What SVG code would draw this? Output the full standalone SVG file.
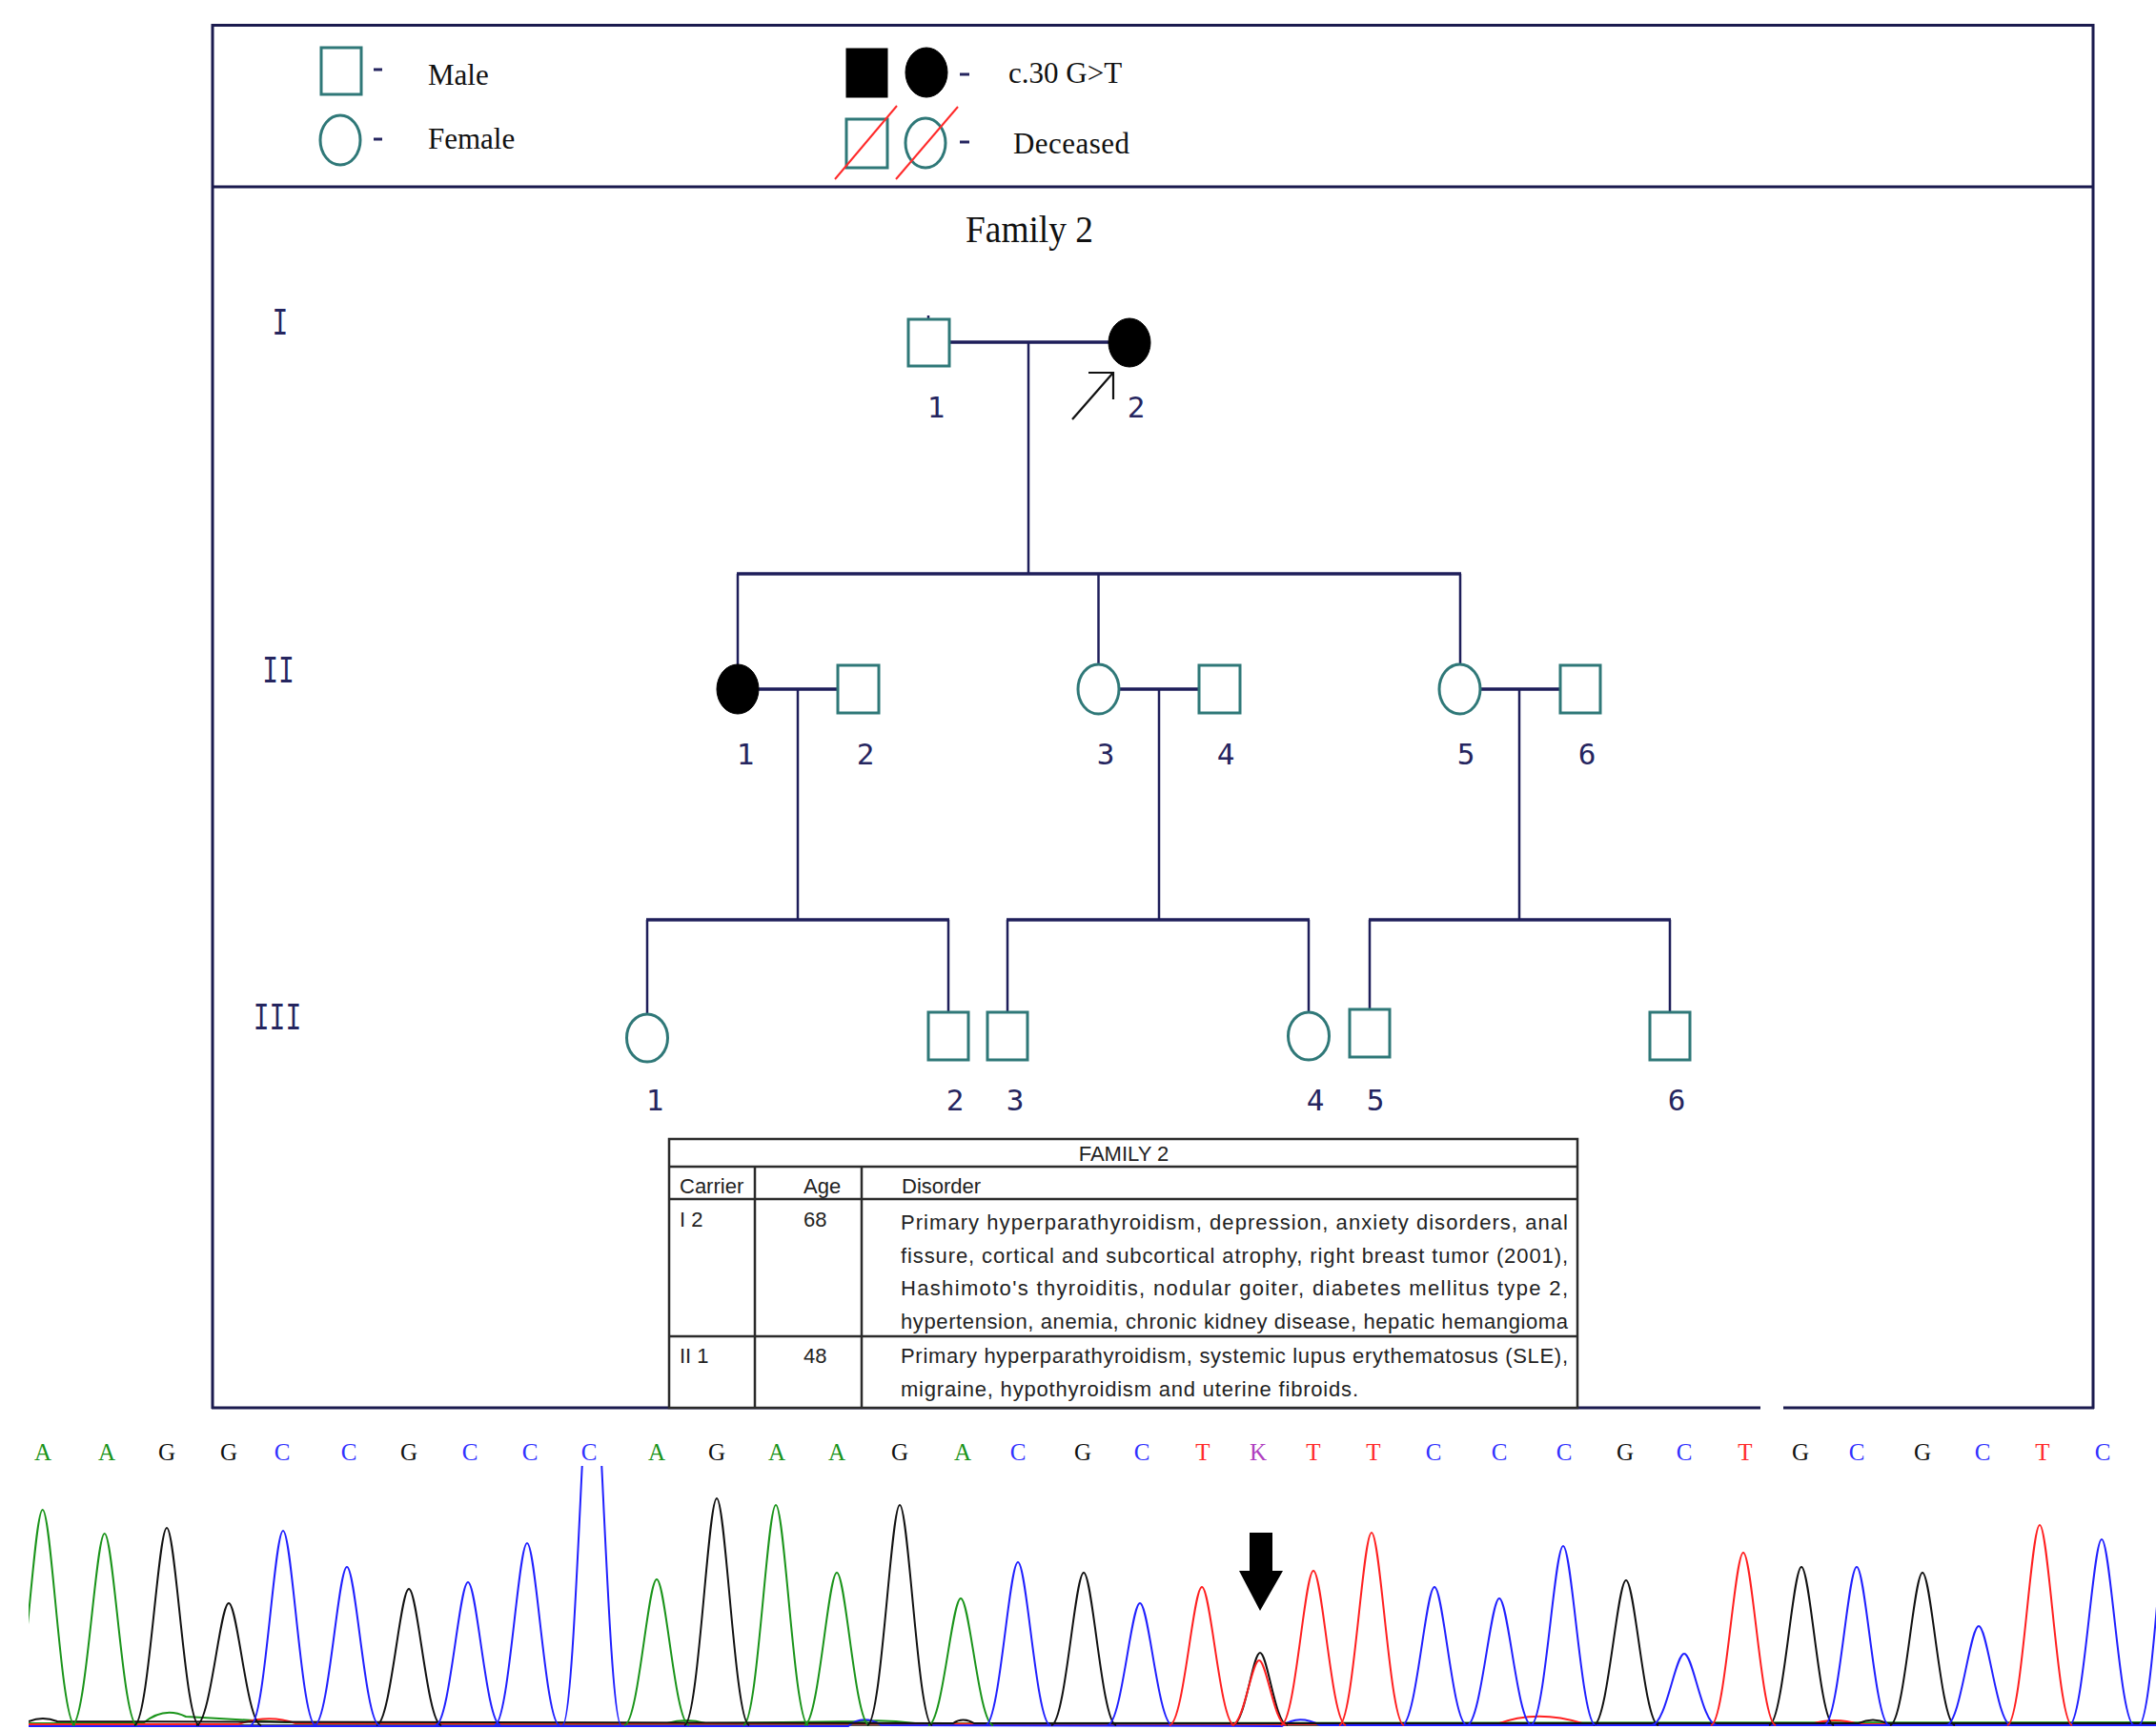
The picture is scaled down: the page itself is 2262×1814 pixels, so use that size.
<svg xmlns="http://www.w3.org/2000/svg" xmlns:xlink="http://www.w3.org/1999/xlink" width="2262" height="1814" viewBox="0 0 2262 1814">
<style>
.frame{fill:none;stroke:#1b1b4f;stroke-width:3}
.ln{stroke:#1e1e5a;stroke-width:2.5;fill:none}
.mar{stroke:#1e1e5a;stroke-width:3.5;fill:none}
.nd{fill:#fff;stroke:#2f7878;stroke-width:3}
.aff{fill:#000;stroke:#000;stroke-width:1}
.lbl{font-family:"DejaVu Sans Mono",monospace;font-size:31px;fill:#25255f;text-anchor:middle}
.gen{font-family:"Liberation Mono",monospace;font-size:28px;fill:#25255f;text-anchor:middle}
.lg{font-family:"Liberation Serif",serif;font-size:31px;fill:#111}
.dash{stroke:#25255f;stroke-width:3}
.dec{stroke:#ff2a2a;stroke-width:2}
.tb{font-family:"Liberation Sans",sans-serif;font-size:22px;fill:#222}
.tl{stroke:#2b2b2b;stroke-width:2.5;fill:none}
.base{font-family:"Liberation Serif",serif;font-size:25px;text-anchor:middle}
.pk{fill:none;stroke-width:2}
.A{fill:#1a941a}
.G{fill:#111}
.C{fill:#3030ff}
.T{fill:#ff2a2a}
.K{fill:#b040c0}
</style>
<defs>
<path id="pk" d="M-1.1 0C-0.62 0 -0.3 1 0 1C0.3 1 0.62 0 1.1 0" vector-effect="non-scaling-stroke"/>
<clipPath id="chromClip"><rect x="30" y="1538" width="2232" height="276"/></clipPath>
</defs>
<rect width="2262" height="1814" fill="#fff"/>

<!-- frame -->
<g id="frame">
<line class="frame" x1="223" y1="26.5" x2="2196" y2="26.5"/>
<line class="frame" x1="223" y1="25" x2="223" y2="1478"/>
<line class="frame" x1="2196" y1="25" x2="2196" y2="1478"/>
<line class="frame" x1="223" y1="196" x2="2196" y2="196"/>
<line class="frame" x1="222" y1="1477" x2="1847" y2="1477"/>
<line class="frame" x1="1871" y1="1477" x2="2197" y2="1477"/>
</g>

<!-- legend -->
<g id="legend">
<rect class="nd" x="337" y="50" width="42" height="49"/>
<line class="dash" x1="392" y1="73" x2="401" y2="73"/>
<text class="lg" x="449" y="89">Male</text>
<ellipse class="nd" cx="357" cy="147" rx="21" ry="26"/>
<line class="dash" x1="392" y1="146" x2="401" y2="146"/>
<text class="lg" x="449" y="156">Female</text>
<rect class="aff" x="888" y="51" width="43" height="51"/>
<ellipse class="aff" cx="972" cy="76" rx="22" ry="26"/>
<line class="dash" x1="1007" y1="78" x2="1017" y2="78"/>
<text class="lg" x="1058" y="87">c.30 G&gt;T</text>
<rect class="nd" x="888" y="125" width="43" height="51"/>
<ellipse class="nd" cx="971" cy="150" rx="21" ry="26"/>
<line class="dec" x1="876" y1="188" x2="941" y2="111"/>
<line class="dec" x1="940" y1="188" x2="1005" y2="112"/>
<line class="dash" x1="1007" y1="149" x2="1017" y2="149"/>
<text class="lg" x="1063" y="161" textLength="122">Deceased</text>
</g>

<text id="title" x="1013" y="254" font-family="Liberation Serif, serif" font-size="39" fill="#111" textLength="134" lengthAdjust="spacingAndGlyphs">Family 2</text>

<!-- generation labels -->
<g id="generations">
<text class="gen" transform="translate(294 351) scale(1 1.45)">I</text>
<text class="gen" transform="translate(292 716) scale(1 1.45)">II</text>
<text class="gen" transform="translate(291 1080) scale(1 1.45)">III</text>
</g>

<!-- connectors -->
<g id="connectors">
<line class="mar" x1="996" y1="359" x2="1163" y2="359"/>
<line class="ln" x1="1079" y1="359" x2="1079" y2="602"/>
<line class="ln" x1="974" y1="331" x2="974" y2="335"/>
<line class="mar" x1="773" y1="602" x2="1533" y2="602"/>
<line class="ln" x1="774" y1="602" x2="774" y2="697"/>
<line class="ln" x1="1152.5" y1="602" x2="1152.5" y2="697"/>
<line class="ln" x1="1532" y1="602" x2="1532" y2="697"/>
<line class="mar" x1="796" y1="723" x2="879" y2="723"/>
<line class="ln" x1="837" y1="723" x2="837" y2="965"/>
<line class="mar" x1="1174" y1="723" x2="1258" y2="723"/>
<line class="ln" x1="1216" y1="723" x2="1216" y2="965"/>
<line class="mar" x1="1553" y1="723" x2="1637" y2="723"/>
<line class="ln" x1="1594" y1="723" x2="1594" y2="965"/>
<line class="mar" x1="678" y1="965" x2="996" y2="965"/>
<line class="ln" x1="679" y1="965" x2="679" y2="1064"/>
<line class="ln" x1="995" y1="965" x2="995" y2="1062"/>
<line class="mar" x1="1056" y1="965" x2="1374" y2="965"/>
<line class="ln" x1="1057" y1="965" x2="1057" y2="1062"/>
<line class="ln" x1="1373" y1="965" x2="1373" y2="1062"/>
<line class="mar" x1="1436" y1="965" x2="1753" y2="965"/>
<line class="ln" x1="1437" y1="965" x2="1437" y2="1059"/>
<line class="ln" x1="1752" y1="965" x2="1752" y2="1062"/>
<g id="proband-arrow" stroke="#111" stroke-width="2.2" fill="none">
<line x1="1125" y1="440" x2="1167" y2="392"/>
<polyline points="1142,391 1168,391 1168,419"/>
</g>
</g>

<!-- nodes -->
<g id="I-1"><rect class="nd" x="953" y="335" width="43" height="49"/><text class="lbl" x="982" y="438">1</text></g>
<g id="I-2"><ellipse class="aff" cx="1185" cy="359.5" rx="22" ry="25.5"/><text class="lbl" x="1192" y="438">2</text></g>
<g id="II-1"><ellipse class="aff" cx="774" cy="723" rx="22" ry="26"/><text class="lbl" x="782" y="802">1</text></g>
<g id="II-2"><rect class="nd" x="879" y="698" width="43" height="50"/><text class="lbl" x="908" y="802">2</text></g>
<g id="II-3"><ellipse class="nd" cx="1152.5" cy="723" rx="21.5" ry="26"/><text class="lbl" x="1160" y="802">3</text></g>
<g id="II-4"><rect class="nd" x="1258" y="698" width="43" height="50"/><text class="lbl" x="1286" y="802">4</text></g>
<g id="II-5"><ellipse class="nd" cx="1531.5" cy="723" rx="21.5" ry="26"/><text class="lbl" x="1538" y="802">5</text></g>
<g id="II-6"><rect class="nd" x="1637" y="698" width="42" height="50"/><text class="lbl" x="1665" y="802">6</text></g>
<g id="III-1"><ellipse class="nd" cx="679" cy="1089" rx="21.5" ry="25"/><text class="lbl" x="687" y="1165">1</text></g>
<g id="III-2"><rect class="nd" x="974" y="1062" width="42" height="50"/><text class="lbl" x="1002" y="1165">2</text></g>
<g id="III-3"><rect class="nd" x="1036" y="1062" width="42" height="50"/><text class="lbl" x="1065" y="1165">3</text></g>
<g id="III-4"><ellipse class="nd" cx="1373" cy="1087" rx="21.5" ry="25"/><text class="lbl" x="1380" y="1165">4</text></g>
<g id="III-5"><rect class="nd" x="1416" y="1059" width="42" height="50"/><text class="lbl" x="1443" y="1165">5</text></g>
<g id="III-6"><rect class="nd" x="1731" y="1062" width="42" height="50"/><text class="lbl" x="1759" y="1165">6</text></g>

<!-- table -->
<g id="table">
<rect x="702" y="1195" width="953" height="282" fill="#fff" stroke="#2b2b2b" stroke-width="2.5"/>
<line class="tl" x1="702" y1="1224" x2="1655" y2="1224"/>
<line class="tl" x1="702" y1="1258" x2="1655" y2="1258"/>
<line class="tl" x1="702" y1="1402" x2="1655" y2="1402"/>
<line class="tl" x1="792" y1="1224" x2="792" y2="1477"/>
<line class="tl" x1="904" y1="1224" x2="904" y2="1477"/>
<text class="tb" x="1179" y="1218" text-anchor="middle">FAMILY 2</text>
<text class="tb" x="713" y="1252">Carrier</text>
<text class="tb" x="843" y="1252">Age</text>
<text class="tb" x="946" y="1252">Disorder</text>
<text class="tb" x="713" y="1287">I 2</text>
<text class="tb" x="843" y="1287">68</text>
<text class="tb" x="945" y="1290" textLength="700">Primary hyperparathyroidism, depression, anxiety disorders, anal</text>
<text class="tb" x="945" y="1324.5" textLength="700">fissure, cortical and subcortical atrophy, right breast tumor (2001),</text>
<text class="tb" x="945" y="1359" textLength="700">Hashimoto's thyroiditis, nodular goiter, diabetes mellitus type 2,</text>
<text class="tb" x="945" y="1393.5" textLength="700">hypertension, anemia, chronic kidney disease, hepatic hemangioma</text>
<text class="tb" x="713" y="1430">II 1</text>
<text class="tb" x="843" y="1430">48</text>
<text class="tb" x="945" y="1430" textLength="700">Primary hyperparathyroidism, systemic lupus erythematosus (SLE),</text>
<text class="tb" x="945" y="1465" textLength="480">migraine, hypothyroidism and uterine fibroids.</text>
</g>

<!-- chromatogram base calls -->
<g id="bases" class="base">
<text class="A" x="45" y="1532">A</text>
<text class="A" x="112" y="1532">A</text>
<text class="G" x="175" y="1532">G</text>
<text class="G" x="240" y="1532">G</text>
<text class="C" x="296" y="1532">C</text>
<text class="C" x="366" y="1532">C</text>
<text class="G" x="429" y="1532">G</text>
<text class="C" x="493" y="1532">C</text>
<text class="C" x="556" y="1532">C</text>
<text class="C" x="618" y="1532">C</text>
<text class="A" x="689" y="1532">A</text>
<text class="G" x="752" y="1532">G</text>
<text class="A" x="815" y="1532">A</text>
<text class="A" x="878" y="1532">A</text>
<text class="G" x="944" y="1532">G</text>
<text class="A" x="1010" y="1532">A</text>
<text class="C" x="1068" y="1532">C</text>
<text class="G" x="1136" y="1532">G</text>
<text class="C" x="1198" y="1532">C</text>
<text class="T" x="1262" y="1532">T</text>
<text class="K" x="1320" y="1532">K</text>
<text class="T" x="1378" y="1532">T</text>
<text class="T" x="1441" y="1532">T</text>
<text class="C" x="1504" y="1532">C</text>
<text class="C" x="1573" y="1532">C</text>
<text class="C" x="1641" y="1532">C</text>
<text class="G" x="1705" y="1532">G</text>
<text class="C" x="1767" y="1532">C</text>
<text class="T" x="1831" y="1532">T</text>
<text class="G" x="1889" y="1532">G</text>
<text class="C" x="1948" y="1532">C</text>
<text class="G" x="2017" y="1532">G</text>
<text class="C" x="2080" y="1532">C</text>
<text class="T" x="2143" y="1532">T</text>
<text class="C" x="2206" y="1532">C</text>
</g>

<!-- chromatogram traces -->
<g id="traces" clip-path="url(#chromClip)">
<g id="noise" fill="none" stroke-width="2">
<line x1="30" y1="1810" x2="2262" y2="1810" stroke="#555"/>
<path stroke="#1a941a" d="M30 1808 L150 1808 Q172 1790 195 1801 L230 1803 L300 1807 L700 1808 Q720 1802 740 1808 L900 1806 Q930 1804 960 1808 L2262 1807"/>
<path stroke="#ff2020" d="M30 1809 L250 1809 Q282 1798 310 1808 L1570 1809 Q1612 1793 1660 1808 L1900 1809 Q1925 1801 1950 1809 L2262 1809"/>
<path stroke="#2020ff" d="M30 1811 L890 1811 Q905 1798 925 1810 L1345 1811 Q1362 1798 1385 1810 L2262 1810"/>
<path stroke="#111" d="M30 1806 Q45 1800 60 1806 L1000 1808 Q1010 1801 1022 1808 L1950 1808 Q1965 1801 1980 1808 L2262 1808"/>
</g>
<g class="pk" stroke="#1a941a">
<use xlink:href="#pk" transform="translate(44.7 1810) scale(31 -226)"/>
<use xlink:href="#pk" transform="translate(109.7 1810) scale(31 -201)"/>
<use xlink:href="#pk" transform="translate(689 1810) scale(31 -153)"/>
<use xlink:href="#pk" transform="translate(814 1810) scale(31 -231)"/>
<use xlink:href="#pk" transform="translate(878 1810) scale(31 -160)"/>
<use xlink:href="#pk" transform="translate(1008 1810) scale(31 -133)"/>
</g>
<g class="pk" stroke="#111">
<use xlink:href="#pk" transform="translate(175 1810) scale(31 -207)"/>
<use xlink:href="#pk" transform="translate(240 1810) scale(31 -128)"/>
<use xlink:href="#pk" transform="translate(429 1810) scale(31 -143)"/>
<use xlink:href="#pk" transform="translate(752 1810) scale(31 -238)"/>
<use xlink:href="#pk" transform="translate(944 1810) scale(31 -231)"/>
<use xlink:href="#pk" transform="translate(1137 1810) scale(31 -160)"/>
<use xlink:href="#pk" transform="translate(1322 1810) scale(26 -76)"/>
<use xlink:href="#pk" transform="translate(1706 1810) scale(31 -152)"/>
<use xlink:href="#pk" transform="translate(1890 1810) scale(31 -166)"/>
<use xlink:href="#pk" transform="translate(2017 1810) scale(31 -160)"/>
</g>
<g class="pk" stroke="#2020ff">
<use xlink:href="#pk" transform="translate(297 1810) scale(31 -204)"/>
<use xlink:href="#pk" transform="translate(364 1810) scale(31 -166)"/>
<use xlink:href="#pk" transform="translate(491 1810) scale(31 -150)"/>
<use xlink:href="#pk" transform="translate(553 1810) scale(31 -191)"/>
<use xlink:href="#pk" transform="translate(621 1810) scale(28 -410)"/>
<use xlink:href="#pk" transform="translate(1068 1810) scale(31 -171)"/>
<use xlink:href="#pk" transform="translate(1196 1810) scale(31 -128)"/>
<use xlink:href="#pk" transform="translate(1505 1810) scale(31 -145)"/>
<use xlink:href="#pk" transform="translate(1573 1810) scale(31 -133)"/>
<use xlink:href="#pk" transform="translate(1640 1810) scale(31 -188)"/>
<use xlink:href="#pk" transform="translate(1767 1810) scale(31 -75)"/>
<use xlink:href="#pk" transform="translate(1948 1810) scale(31 -166)"/>
<use xlink:href="#pk" transform="translate(2076 1810) scale(31 -104)"/>
<use xlink:href="#pk" transform="translate(2205 1810) scale(31 -195)"/>
<use xlink:href="#pk" transform="translate(2278 1810) scale(31 -250)"/>
</g>
<g class="pk" stroke="#ff2020">
<use xlink:href="#pk" transform="translate(1261 1810) scale(31 -145)"/>
<use xlink:href="#pk" transform="translate(1321 1810) scale(26 -68)"/>
<use xlink:href="#pk" transform="translate(1378 1810) scale(31 -162)"/>
<use xlink:href="#pk" transform="translate(1439 1810) scale(31 -202)"/>
<use xlink:href="#pk" transform="translate(1829 1810) scale(31 -181)"/>
<use xlink:href="#pk" transform="translate(2140 1810) scale(31 -210)"/>
</g>
</g>

<!-- mutation arrow -->
<g id="mutation-arrow">
<polygon points="1311,1608 1335,1608 1335,1648 1346,1648 1322,1690 1300,1648 1311,1648" fill="#000"/>
</g>
</svg>
